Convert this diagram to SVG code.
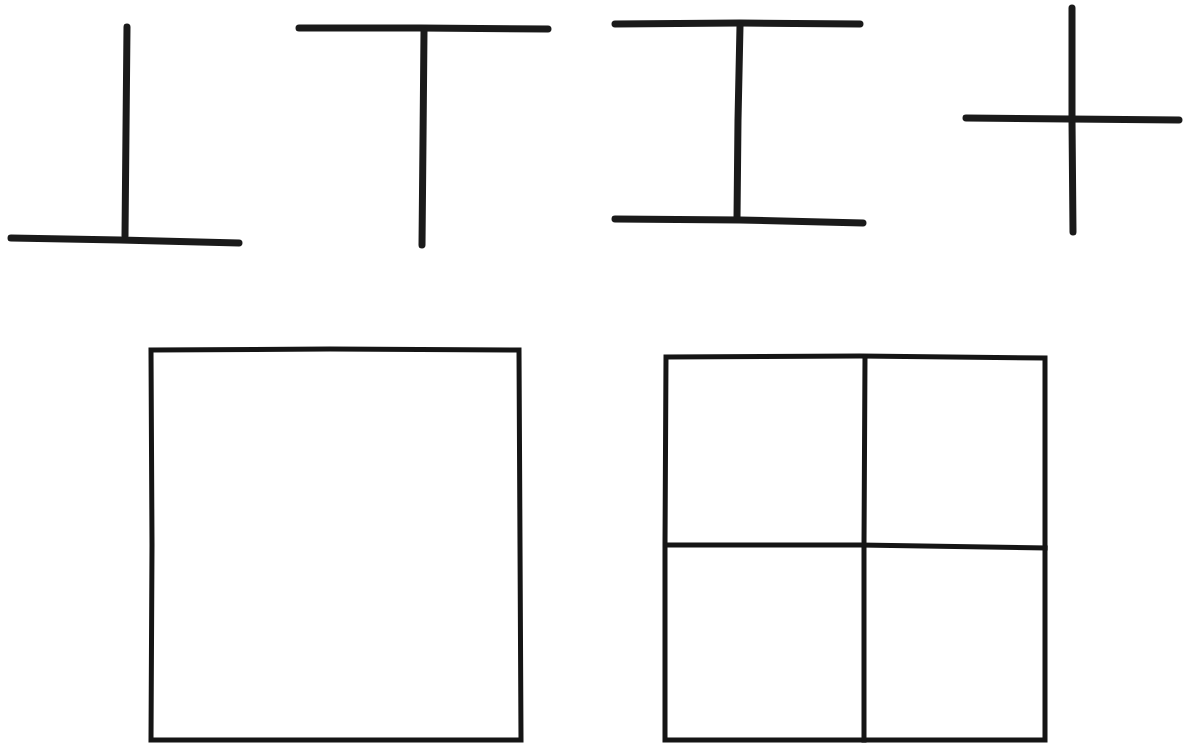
<svg xmlns="http://www.w3.org/2000/svg" width="1184" height="746" viewBox="0 0 1184 746">
<style>
.t{fill:none;stroke:#1a1a1a;stroke-width:7;stroke-linecap:round;stroke-linejoin:round}
.b{fill:none;stroke:#151515;stroke-width:5;stroke-linecap:square;stroke-linejoin:miter}
</style>
<rect width="1184" height="746" fill="#fff"/>
<g id="up-tack">
<path class="t" d="M127 27 L126 130 L125 236"/>
<path class="t" d="M11 238 L120 240 L239 243"/>
</g>
<g id="down-tack">
<path class="t" d="M299 28 L420 28 L548 29"/>
<path class="t" d="M424 31 L423 140 L422 245"/>
</g>
<g id="i-beam">
<path class="t" d="M615 24 L740 23 L860 24"/>
<path class="t" d="M740 26 L738 120 L737 218"/>
<path class="t" d="M615 219 L740 220 L863 223"/>
</g>
<g id="plus">
<path class="t" d="M1072 8 L1072 120 L1073 232"/>
<path class="t" d="M966 118 L1070 119 L1179 120"/>
</g>
<g id="square">
<path class="b" d="M151 350 L330 349 L519 350 L520 545 L521 740 L330 740 L151 740 L152 545 Z"/>
</g>
<g id="window">
<path class="b" d="M666 357 L860 356 L1045 358 L1045 550 L1045 740 L860 740 L665 740 L665 545 Z"/>
<path class="b" d="M865 357 L864 545 L864 740"/>
<path class="b" d="M667 545 L860 545 L1045 548"/>
</g>
</svg>
